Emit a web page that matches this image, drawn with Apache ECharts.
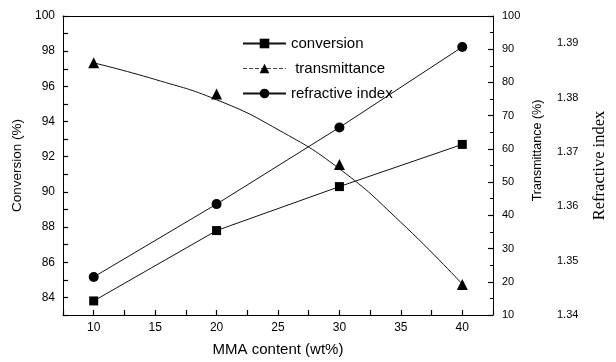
<!DOCTYPE html>
<html>
<head>
<meta charset="utf-8">
<script src="https://cdn.jsdelivr.net/npm/echarts@6/dist/echarts.min.js"></script>
<style>html,body{margin:0;padding:0;background:#fff}#c{width:616px;height:362px}</style>
</head>
<body>
<div id="c"></div>
<script>
// MMA content (wt%)
var mmaContent = [10, 20, 30, 40];
// Conversion (%)
var conversion = [83.8, 87.8, 90.3, 92.7];
// Transmittance (%) measured points
var transmittance = [85.9, 76.5, 55.3, 19.2];
// Transmittance fitted curve
var fitX = [10, 15, 20, 25, 30, 35, 40];
var transmittanceFit = [85.9, 80.9, 74.8, 65.8, 54.0, 37.9, 19.3];
// Refractive index
var refractive = [1.347, 1.3604, 1.3745, 1.3893];

function pairs(xs, ys) { return xs.map(function (x, i) { return [x, ys[i]]; }); }

var chart = echarts.init(document.getElementById('c'), null, {renderer: 'canvas'});
var FONT = 'Liberation Sans';
var tickStyle = {show: true, inside: true, length: 5, lineStyle: {color: '#000', width: 1.2}};
var lineStyleAxis = {show: true, onZero: false, lineStyle: {color: '#000', width: 1}};
chart.setOption({
  animation: false,
  backgroundColor: '#fff',
  textStyle: {fontFamily: FONT},
  grid: {left: 63, right: 113, top: 16, bottom: 44},
  legend: {
    orient: 'vertical', left: 237, top: 31, itemWidth: 43, itemHeight: 12, itemGap: 10,
    textStyle: {fontFamily: FONT, fontSize: 15, color: '#000'},
    data: [
      {name: 'conversion'},
      {name: 'transmittance', lineStyle: {opacity: 1, type: 'dashed', width: 1, color: '#444'}},
      {name: 'refractive index'}
    ],
    formatter: function (n) { return n === 'transmittance' ? ' ' + n : n; }
  },
  xAxis: [
    {
      type: 'value', position: 'bottom', min: 7.5, max: 42.5, interval: 2.5,
      name: 'MMA content (wt%)', nameLocation: 'middle', nameGap: 27,
      nameTextStyle: {fontFamily: FONT, fontSize: 15, color: '#000'},
      axisLine: lineStyleAxis, axisTick: tickStyle, splitLine: {show: false},
      axisLabel: {fontSize: 12, color: '#000', margin: 7, formatter: function (v) { return v % 5 === 0 ? String(v) : ''; }}
    },
    {
      type: 'value', position: 'top', min: 7.5, max: 42.5, interval: 2.5,
      axisLine: lineStyleAxis, axisTick: {show: false}, axisLabel: {show: false}, splitLine: {show: false}
    }
  ],
  yAxis: [
    {
      type: 'value', position: 'left', min: 83, max: 100, interval: 1,
      name: 'Conversion (%)', nameLocation: 'middle', nameGap: 34,
      nameTextStyle: {fontFamily: FONT, fontSize: 13.5, color: '#000'},
      axisLine: lineStyleAxis, axisTick: tickStyle, splitLine: {show: false},
      axisLabel: {fontSize: 12, color: '#000', margin: 8, formatter: function (v) { return v % 2 === 0 ? String(v) : ''; }}
    },
    {
      type: 'value', position: 'right', min: 10, max: 100, interval: 10,
      name: 'Transmittance (%)', nameLocation: 'middle', nameGap: 33,
      nameTextStyle: {fontFamily: FONT, fontSize: 12.5, color: '#000', padding: [0, 0, 0, 30]},
      axisLine: lineStyleAxis, axisTick: tickStyle, splitLine: {show: false},
      minorTick: {show: true, splitNumber: 2, length: 3, lineStyle: {color: '#000'}},
      axisLabel: {fontSize: 11, color: '#000', margin: 9}
    },
    {
      type: 'value', position: 'right', offset: 56, min: 1.34, max: 1.395, interval: 0.01,
      name: 'Refractive index', nameLocation: 'middle', nameGap: 42,
      nameTextStyle: {fontFamily: 'Liberation Serif', fontSize: 16.5, color: '#000'},
      axisLine: {show: false}, axisTick: {show: false}, splitLine: {show: false},
      axisLabel: {fontSize: 11, color: '#000', margin: 8, showMaxLabel: false, formatter: function (v) { return v.toFixed(2); }}
    }
  ],
  series: [
    {
      name: 'conversion', type: 'line', yAxisIndex: 0, data: pairs(mmaContent, conversion),
      symbol: 'rect', symbolSize: 9, lineStyle: {color: '#111', width: 1}, itemStyle: {color: '#000'}
    },
    {
      name: 'transmittance', type: 'line', yAxisIndex: 1, data: pairs(mmaContent, transmittance),
      symbol: 'triangle', symbolSize: 11, lineStyle: {opacity: 0}, itemStyle: {color: '#000'}, z: 3
    },
    {
      name: 'transmittance fit', type: 'line', yAxisIndex: 1, data: pairs(fitX, transmittanceFit),
      smooth: true, symbol: 'none', lineStyle: {color: '#111', width: 1}
    },
    {
      name: 'refractive index', type: 'line', yAxisIndex: 2, data: pairs(mmaContent, refractive),
      symbol: 'circle', symbolSize: 10, lineStyle: {color: '#111', width: 1}, itemStyle: {color: '#000'}
    }
  ]
});
</script>
</body>
</html>
